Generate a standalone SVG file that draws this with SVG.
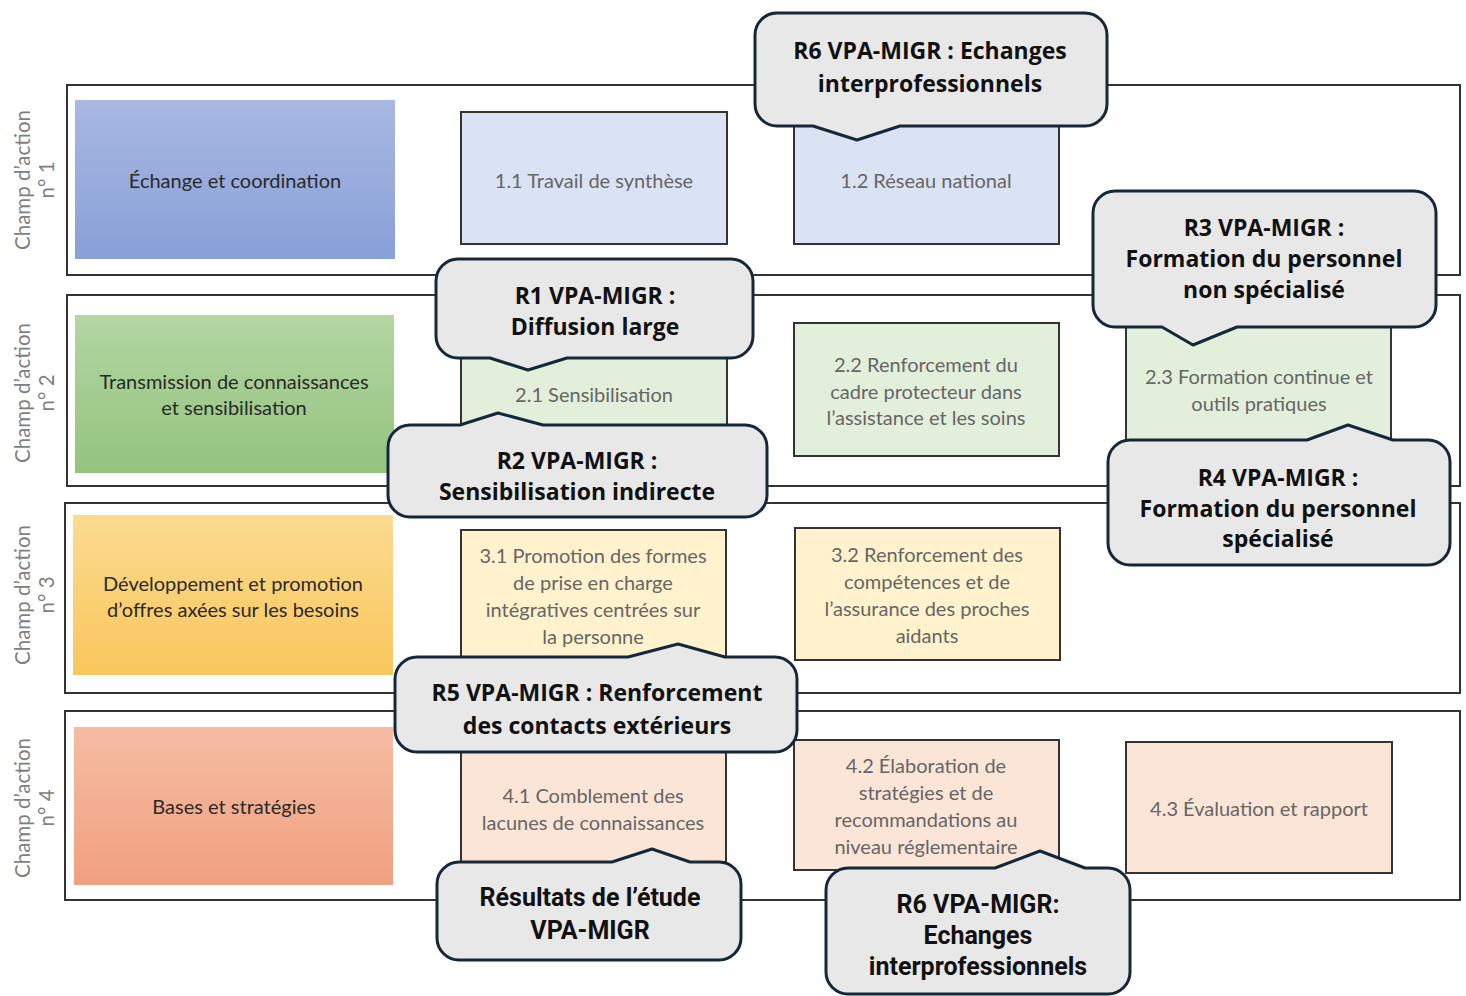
<svg xmlns="http://www.w3.org/2000/svg" width="1466" height="996" viewBox="0 0 1466 996">
<defs>
<linearGradient id="gBlue" x1="0" y1="0" x2="0" y2="1"><stop offset="0" stop-color="#a9b8e2"/><stop offset="1" stop-color="#88a0d8"/></linearGradient>
<linearGradient id="gGreen" x1="0" y1="0" x2="0" y2="1"><stop offset="0" stop-color="#b3d6a3"/><stop offset="1" stop-color="#93c47d"/></linearGradient>
<linearGradient id="gYellow" x1="0" y1="0" x2="0" y2="1"><stop offset="0" stop-color="#fcdb90"/><stop offset="1" stop-color="#f9c65c"/></linearGradient>
<linearGradient id="gOrange" x1="0" y1="0" x2="0" y2="1"><stop offset="0" stop-color="#f5bca3"/><stop offset="1" stop-color="#f1a07f"/></linearGradient>
<style>
.frame{fill:#fff;stroke:#333;stroke-width:2}
.sub{stroke:#333;stroke-width:2}
.main{stroke:none}
.lbl{font-family:Lato,"Open Sans",sans-serif;font-size:20.5px;fill:#7f7f7f;text-anchor:middle;dominant-baseline:central}
.mt{font-family:Lato,"Open Sans",sans-serif;font-size:20px;fill:#2a2a2a;text-anchor:middle;dominant-baseline:central}
.st{font-family:Lato,"Open Sans",sans-serif;font-size:20px;fill:#666;text-anchor:middle;dominant-baseline:central}
.co{fill:#e8e8e8;stroke:#14283a;stroke-width:3;stroke-linejoin:round}
.ct{font-family:"Open Sans","Noto Sans",sans-serif;font-weight:bold;font-size:23px;fill:#111;text-anchor:middle;dominant-baseline:central}
.cn{font-family:Roboto,"Liberation Sans",sans-serif;font-weight:bold;font-size:25px;fill:#111;text-anchor:middle;dominant-baseline:central}
</style>
</defs>
<rect width="1466" height="996" fill="#fff"/>

<g id="row1">
<rect class="frame" x="67" y="85" width="1393" height="190"/>
<text class="lbl" transform="translate(22,180) rotate(-90)">Champ d’action</text>
<text class="lbl" transform="translate(46,180) rotate(-90)">n° 1</text>
<rect class="main" x="75" y="100" width="320" height="159" fill="url(#gBlue)"/>
<text class="mt" x="235" y="180">Échange et coordination</text>
</g>
<g id="box11"><rect class="sub" x="461" y="112" width="266" height="132" fill="#dae3f3"/><text class="st" x="594" y="180">1.1 Travail de synthèse</text></g>
<g id="box12"><rect class="sub" x="794" y="112" width="265" height="132" fill="#dae3f3"/><text class="st" x="926" y="180">1.2 Réseau national</text></g>

<g id="row2">
<rect class="frame" x="67" y="295" width="1393" height="191"/>
<text class="lbl" transform="translate(22,393) rotate(-90)">Champ d’action</text>
<text class="lbl" transform="translate(46,393) rotate(-90)">n° 2</text>
<rect class="main" x="75" y="315" width="319" height="158" fill="url(#gGreen)"/>
<text class="mt" x="234" y="381">Transmission de connaissances</text>
<text class="mt" x="234" y="407">et sensibilisation</text>
</g>
<g id="box21"><rect class="sub" x="461" y="323" width="266" height="133" fill="#e2efda"/><text class="st" x="594" y="394">2.1 Sensibilisation</text></g>
<g id="box22"><rect class="sub" x="794" y="323" width="265" height="133" fill="#e2efda"/><text class="st" x="926" y="364">2.2 Renforcement du</text><text class="st" x="926" y="391">cadre protecteur dans</text><text class="st" x="926" y="417">l’assistance et les soins</text></g>
<g id="box23"><rect class="sub" x="1126" y="323" width="265" height="133" fill="#e2efda"/><text class="st" x="1259" y="376">2.3 Formation continue et</text><text class="st" x="1259" y="403">outils pratiques</text></g>

<g id="row3">
<rect class="frame" x="65" y="503" width="1395" height="190"/>
<text class="lbl" transform="translate(22,595) rotate(-90)">Champ d’action</text>
<text class="lbl" transform="translate(46,595) rotate(-90)">n° 3</text>
<rect class="main" x="73" y="515" width="320" height="160" fill="url(#gYellow)"/>
<text class="mt" x="233" y="583">Développement et promotion</text>
<text class="mt" x="233" y="609">d’offres axées sur les besoins</text>
</g>
<g id="box31"><rect class="sub" x="461" y="530" width="265" height="132" fill="#fff2cc"/><text class="st" x="593" y="555">3.1 Promotion des formes</text><text class="st" x="593" y="582">de prise en charge</text><text class="st" x="593" y="609">intégratives centrées sur</text><text class="st" x="593" y="636">la personne</text></g>
<g id="box32"><rect class="sub" x="795" y="528" width="265" height="132" fill="#fff2cc"/><text class="st" x="927" y="554">3.2 Renforcement des</text><text class="st" x="927" y="581">compétences et de</text><text class="st" x="927" y="608">l’assurance des proches</text><text class="st" x="927" y="635">aidants</text></g>

<g id="row4">
<rect class="frame" x="65" y="711" width="1395" height="189"/>
<text class="lbl" transform="translate(22,808) rotate(-90)">Champ d’action</text>
<text class="lbl" transform="translate(46,808) rotate(-90)">n° 4</text>
<rect class="main" x="74" y="727" width="319" height="158" fill="url(#gOrange)"/>
<text class="mt" x="234" y="806">Bases et stratégies</text>
</g>
<g id="box41"><rect class="sub" x="461" y="742" width="265" height="120" fill="#fbe5d6"/><text class="st" x="593" y="795">4.1 Comblement des</text><text class="st" x="593" y="822">lacunes de connaissances</text></g>
<g id="box42"><rect class="sub" x="794" y="740" width="265" height="130" fill="#fbe5d6"/><text class="st" x="926" y="765">4.2 Élaboration de</text><text class="st" x="926" y="792">stratégies et de</text><text class="st" x="926" y="819">recommandations au</text><text class="st" x="926" y="846">niveau réglementaire</text></g>
<g id="box43"><rect class="sub" x="1126" y="742" width="266" height="131" fill="#fbe5d6"/><text class="st" x="1259" y="808">4.3 Évaluation et rapport</text></g>

<g id="callouts">
<g id="cR6top">
<path class="co" d="M777,13 H1085 A22,22 0 0 1 1107,35 V104 A22,22 0 0 1 1085,126 H900 L857,140 L813,126 H777 A22,22 0 0 1 755,104 V35 A22,22 0 0 1 777,13 Z"/>
<text class="ct" x="930" y="50">R6 VPA-MIGR : Echanges</text>
<text class="ct" x="930" y="83">interprofessionnels</text>
</g>
<g id="cR3">
<path class="co" d="M1115,191 H1414 A22,22 0 0 1 1436,213 V305 A22,22 0 0 1 1414,327 H1237 L1193,345 L1162,327 H1115 A22,22 0 0 1 1093,305 V213 A22,22 0 0 1 1115,191 Z"/>
<text class="ct" x="1264" y="227">R3 VPA-MIGR :</text>
<text class="ct" x="1264" y="258">Formation du personnel</text>
<text class="ct" x="1264" y="289">non spécialisé</text>
</g>
<g id="cR4">
<path class="co" d="M1130,440 H1307 L1348,425 L1393,440 H1428 A22,22 0 0 1 1450,462 V543 A22,22 0 0 1 1428,565 H1130 A22,22 0 0 1 1108,543 V462 A22,22 0 0 1 1130,440 Z"/>
<text class="ct" x="1278" y="477">R4 VPA-MIGR :</text>
<text class="ct" x="1278" y="508">Formation du personnel</text>
<text class="ct" x="1278" y="538">spécialisé</text>
</g>
<g id="cR1">
<path class="co" d="M458,259 H731 A22,22 0 0 1 753,281 V336 A22,22 0 0 1 731,358 H567 L528,370 L490,358 H458 A22,22 0 0 1 436,336 V281 A22,22 0 0 1 458,259 Z"/>
<text class="ct" x="595" y="295">R1 VPA-MIGR :</text>
<text class="ct" x="595" y="326">Diffusion large</text>
</g>
<g id="cR2">
<path class="co" d="M410,425 H460 L498,413 L543,425 H745 A22,22 0 0 1 767,447 V495 A22,22 0 0 1 745,517 H410 A22,22 0 0 1 388,495 V447 A22,22 0 0 1 410,425 Z"/>
<text class="ct" x="577" y="460">R2 VPA-MIGR :</text>
<text class="ct" x="577" y="491">Sensibilisation indirecte</text>
</g>
<g id="cR5">
<path class="co" d="M417,657 H628 L678,644 L725,657 H775 A22,22 0 0 1 797,679 V730 A22,22 0 0 1 775,752 H417 A22,22 0 0 1 395,730 V679 A22,22 0 0 1 417,657 Z"/>
<text class="ct" x="597" y="692">R5 VPA-MIGR : Renforcement</text>
<text class="ct" x="597" y="725">des contacts extérieurs</text>
</g>
<g id="cRes">
<path class="co" d="M459,862 H612 L652,849 L690,862 H719 A22,22 0 0 1 741,884 V938 A22,22 0 0 1 719,960 H459 A22,22 0 0 1 437,938 V884 A22,22 0 0 1 459,862 Z"/>
<text class="cn" x="590" y="897">Résultats de l’étude</text>
<text class="cn" x="590" y="930">VPA-MIGR</text>
</g>
<g id="cR6bot">
<path class="co" d="M848,868 H995 L1040,851 L1085,868 H1108 A22,22 0 0 1 1130,890 V972 A22,22 0 0 1 1108,994 H848 A22,22 0 0 1 826,972 V890 A22,22 0 0 1 848,868 Z"/>
<text class="cn" x="978" y="904">R6 VPA-MIGR:</text>
<text class="cn" x="978" y="935">Echanges</text>
<text class="cn" x="978" y="966">interprofessionnels</text>
</g>
</g>
</svg>
